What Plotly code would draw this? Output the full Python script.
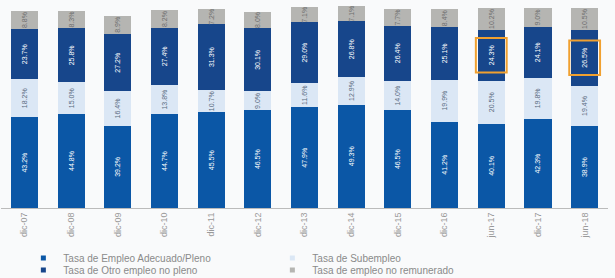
import plotly.graph_objects as go

categories = ["dic-07", "dic-08", "dic-09", "dic-10", "dic-11", "dic-12", "dic-13",
              "dic-14", "dic-15", "dic-16", "jun-17", "dic-17", "jun-18"]
adecuado = [43.2, 44.8, 39.2, 44.7, 45.5, 46.5, 47.9, 49.3, 46.5, 41.2, 40.1, 42.3, 38.9]
subempleo = [18.2, 15.0, 16.4, 13.8, 10.7, 9.0, 11.6, 12.9, 14.0, 19.9, 20.5, 19.8, 19.4]
otro = [23.7, 25.8, 27.2, 27.4, 31.3, 30.1, 29.0, 26.8, 26.4, 25.1, 24.3, 24.1, 26.5]
no_remunerado = [8.8, 8.3, 8.9, 8.2, 7.2, 8.0, 7.1, 7.1, 7.7, 8.4, 10.2, 9.0, 10.5]
highlighted = ["jun-17", "jun-18"]

series = [
    ("Tasa de Empleo Adecuado/Pleno", adecuado, "#0b57a6", "white", "legend"),
    ("Tasa de Subempleo", subempleo, "#dbe7f5", "#5a6b80", "legend"),
    ("Tasa de Otro empleo no pleno", otro, "#17468b", "white", "legend2"),
    ("Tasa de empleo no remunerado", no_remunerado, "#b5b5b2", "#6e6e6e", "legend2"),
]

fig = go.Figure()
for name, vals, color, tcolor, leg in series:
    fig.add_trace(go.Bar(
        x=categories, y=vals, name=name, showlegend=False,
        marker=dict(color=color, line=dict(width=0)),
        text=[f"{v:.1f}%" for v in vals],
        textposition="inside", insidetextanchor="middle",
        textangle=-90,
        textfont=dict(size=7, color=tcolor, family="Arial"),
        constraintext="none",
    ))
for name, vals, color, tcolor, leg in series:
    fig.add_trace(go.Scatter(
        x=[None], y=[None], mode="markers", name=name, legend=leg,
        marker=dict(symbol="square", size=5, color=color),
        showlegend=True,
    ))

# highlight boxes around "Otro empleo" labels
for cat in highlighted:
    i = categories.index(cat)
    mid = adecuado[i] + subempleo[i] + otro[i] / 2
    fig.add_shape(type="rect", xref="x", yref="y",
                  x0=i - 0.33, x1=i + 0.33, y0=mid - 8.2, y1=mid + 8.2,
                  line=dict(color="#f0a030", width=2), fillcolor="rgba(0,0,0,0)")

leg_common = dict(orientation="h", xref="container", yref="container",
                  xanchor="left", yanchor="middle", x=0.038,
                  entrywidth=204, itemwidth=30, traceorder="normal",
                  font=dict(size=10, color="#8a8a8a"),
                  bgcolor="rgba(0,0,0,0)")

fig.update_layout(
    width=615, height=278,
    barmode="stack", bargap=0.42,
    margin=dict(l=1, r=7, t=5, b=70),
    paper_bgcolor="#f9fafb", plot_bgcolor="rgba(0,0,0,0)",
    font=dict(family="Arial", color="#888"),
    showlegend=True,
    legend=dict(**leg_common, y=(278 - 258) / 278),
    legend2=dict(**leg_common, y=(278 - 270) / 278),
    uniformtext=dict(minsize=6, mode="show"),
)
fig.update_xaxes(showline=True, linecolor="#bbb", linewidth=1, tickangle=-90,
                 tickfont=dict(size=9, color="#999"), ticks="",
                 showgrid=False, automargin=False)
fig.update_yaxes(range=[0, 96.7], visible=False, showgrid=False)

fig.write_html("out.html")
